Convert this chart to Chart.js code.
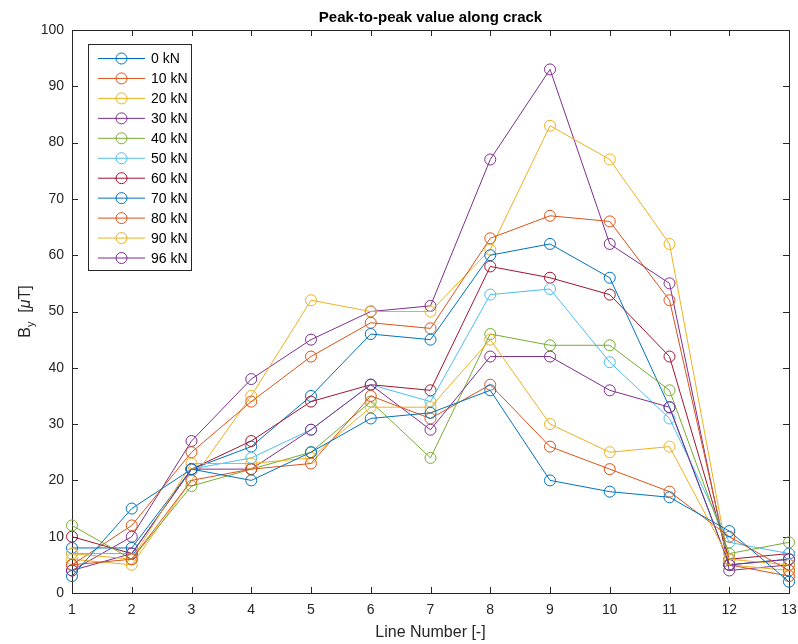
<!DOCTYPE html>
<html>
<head>
<meta charset="utf-8">
<script src="https://cdn.jsdelivr.net/npm/chart.js@4.4.1/dist/chart.umd.min.js"></script>
<style>
  body { margin: 0; background: #fff; }
  canvas { display: block; }
</style>
</head>
<body>
<canvas id="chart" width="798" height="644"></canvas>
<script>
// line numbers along the crack
const lineNumbers = [1, 2, 3, 4, 5, 6, 7, 8, 9, 10, 11, 12, 13];
const loadLabels = ["0 kN", "10 kN", "20 kN", "30 kN", "40 kN", "50 kN", "60 kN", "70 kN", "80 kN", "90 kN", "96 kN"];

// peak-to-peak By [uT] for each load step
const load0 = [3, 15, 22, 20, 25, 31, 32, 36, 20, 18, 17, 11, 2];
const load10 = [5, 6, 20, 22, 23, 35, 31, 37, 26, 22, 18, 10, 4];
const load20 = [7, 6, 23, 23, 24, 33, 33, 45, 30, 25, 26, 6, 5];
const load30 = [4, 7, 22, 22, 29, 37, 29, 42, 42, 36, 33, 5, 6];
const load40 = [12, 6, 19, 22, 25, 34, 24, 46, 44, 44, 36, 7, 9];
const load50 = [7, 7, 22, 24, 29, 37, 34, 53, 54, 41, 31, 9, 7];
const load60 = [10, 7, 22, 27, 34, 37, 36, 58, 56, 53, 42, 6, 7];
const load70 = [8, 8, 22, 26, 35, 46, 45, 60, 62, 56, 33, 5, 6];
const load80 = [5, 12, 25, 34, 42, 48, 47, 63, 67, 66, 52, 5, 3];
const load90 = [6, 5, 20, 35, 52, 50, 50, 61, 83, 77, 62, 5, 4];
const load96 = [4, 10, 27, 38, 45, 50, 51, 77, 93, 62, 55, 4, 5];

const yTicks = [0, 10, 20, 30, 40, 50, 60, 70, 80, 90, 100];

const allLoads = [load0, load10, load20, load30, load40, load50, load60, load70, load80, load90, load96];

// matlab default line colours, they repeat after 7
const colorOrder = [
  "rgb(0,114,189)", "rgb(217,83,25)", "rgb(237,177,32)", "rgb(126,47,142)",
  "rgb(119,172,48)", "rgb(77,190,238)", "rgb(162,20,47)"
];

const axisColor = "rgb(38,38,38)";
const fontFam = "'Liberation Sans', Arial, Helvetica, sans-serif";
Chart.defaults.font.family = fontFam;

const datasets = allLoads.map((vals, i) => ({
  label: loadLabels[i],
  data: vals.map((v, j) => ({ x: lineNumbers[j], y: v })),
  borderColor: colorOrder[i % 7],
  borderWidth: 1,
  pointStyle: "circle",
  pointRadius: 5.5,
  pointBorderWidth: 1,
  pointBorderColor: colorOrder[i % 7],
  pointBackgroundColor: "rgba(0,0,0,0)",
  tension: 0,
  clip: false,
}));

// box, inward ticks, titles and the legend box
const matlabAxes = {
  id: "matlabAxes",
  beforeDatasetsDraw(chart) {
    const { ctx, chartArea: a, scales } = chart;
    ctx.save();
    ctx.strokeStyle = axisColor;
    ctx.lineWidth = 1;
    ctx.strokeRect(a.left + 0.5, a.top + 0.5, a.right - a.left, a.bottom - a.top);
    const tl = 6;
    ctx.beginPath();
    lineNumbers.forEach(n => {
      const px = Math.round(scales.x.getPixelForValue(n)) + 0.5;
      ctx.moveTo(px, a.bottom); ctx.lineTo(px, a.bottom - tl);
      ctx.moveTo(px, a.top); ctx.lineTo(px, a.top + tl);
    });
    yTicks.forEach(t => {
      const py = Math.round(scales.y.getPixelForValue(t)) + 0.5;
      ctx.moveTo(a.left, py); ctx.lineTo(a.left + tl, py);
      ctx.moveTo(a.right, py); ctx.lineTo(a.right - tl, py);
    });
    ctx.stroke();

    // title
    ctx.fillStyle = "#000";
    ctx.font = "bold 15px " + fontFam;
    ctx.textAlign = "center";
    ctx.textBaseline = "middle";
    ctx.fillText("Peak-to-peak value along crack", (a.left + a.right) / 2, 18);

    // x label
    ctx.fillStyle = axisColor;
    ctx.font = "16px " + fontFam;
    ctx.fillText("Line Number [-]", (a.left + a.right) / 2, 633);

    // y label with subscript and italic mu
    ctx.save();
    ctx.translate(24, (a.top + a.bottom) / 2);
    ctx.rotate(-Math.PI / 2);
    ctx.textAlign = "left";
    ctx.textBaseline = "alphabetic";
    const parts = [
      { t: "B", f: "16px " + fontFam, dy: 0 },
      { t: "y", f: "11px " + fontFam, dy: 4 },
      { t: "  [", f: "16px " + fontFam, dy: 0 },
      { t: "\u03BC", f: "italic 16px " + fontFam, dy: 0 },
      { t: "T]", f: "16px " + fontFam, dy: 0 },
    ];
    let total = 0;
    parts.forEach(p => { ctx.font = p.f; p.w = ctx.measureText(p.t).width; total += p.w; });
    let cx = -total / 2;
    parts.forEach(p => {
      ctx.font = p.f;
      ctx.fillText(p.t, cx, 6 + p.dy);
      cx += p.w;
    });
    ctx.restore();
    ctx.restore();
  },
  afterDatasetsDraw(chart) {
    const { ctx } = chart;
    const bx = 88, by = 44, bw = 103, bh = 226, step = 19.95;
    ctx.save();
    ctx.fillStyle = "#fff";
    ctx.fillRect(bx, by, bw, bh);
    ctx.strokeStyle = axisColor;
    ctx.lineWidth = 1;
    ctx.strokeRect(bx + 0.5, by + 0.5, bw, bh);
    ctx.font = "14px " + fontFam;
    ctx.textBaseline = "middle";
    ctx.textAlign = "left";
    chart.data.datasets.forEach((ds, i) => {
      const y = by + 14.5 + i * step;
      ctx.strokeStyle = ds.borderColor;
      ctx.beginPath();
      ctx.moveTo(98, y); ctx.lineTo(145, y);
      ctx.stroke();
      ctx.beginPath();
      ctx.arc(121.5, y, 5.5, 0, Math.PI * 2);
      ctx.stroke();
      ctx.fillStyle = "#000";
      ctx.fillText(ds.label, 151, y + 1);
    });
    ctx.restore();
  }
};

new Chart(document.getElementById("chart"), {
  type: "line",
  data: { datasets },
  options: {
    responsive: false,
    animation: false,
    layout: { padding: { left: 0, right: 9, top: 30, bottom: 0 } },
    plugins: { legend: { display: false }, tooltip: { enabled: false } },
    scales: {
      x: {
        type: "linear",
        min: 1,
        max: 13,
        afterFit(scale) {
          scale.height = 51;
          scale.paddingLeft = 0;
          scale.paddingRight = 0;
        },
        grid: { display: false, drawTicks: false },
        border: { display: false },
        ticks: {
          stepSize: 1,
          padding: 9,
          color: axisColor,
          font: { size: 14 },
          maxRotation: 0,
        },
      },
      y: {
        min: 0,
        max: 100,
        afterFit(scale) {
          scale.width = 72;
          scale.paddingTop = 0;
          scale.paddingBottom = 0;
        },
        grid: { display: false, drawTicks: false },
        border: { display: false },
        ticks: {
          stepSize: 10,
          padding: 8,
          color: axisColor,
          font: { size: 14 },
        },
      },
    },
  },
  plugins: [matlabAxes],
});
</script>
</body>
</html>
